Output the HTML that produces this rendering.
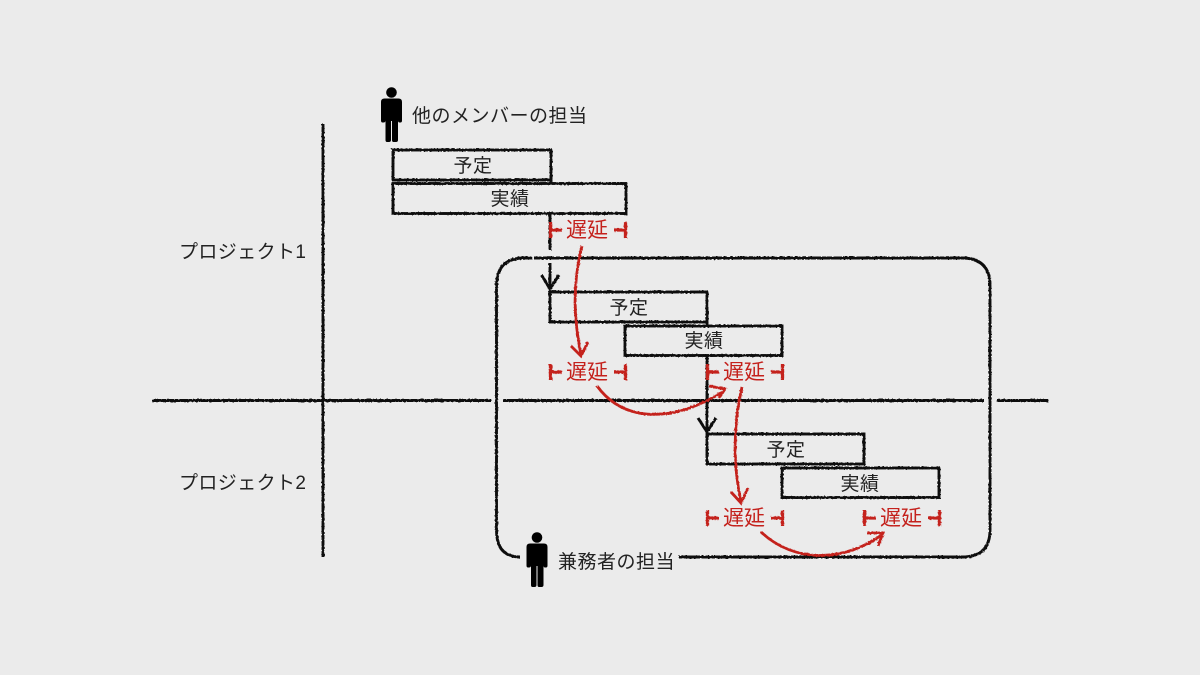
<!DOCTYPE html>
<html lang="ja"><head><meta charset="utf-8"><style>
html,body{margin:0;padding:0;background:#ebebeb;width:1200px;height:675px;overflow:hidden}
svg{display:block}
text{font-family:"Liberation Sans","Noto Sans CJK JP",sans-serif;font-size:19px;letter-spacing:.5px;fill:#222}
.c{text-anchor:middle}
.r{fill:#c4211c;font-size:21px;letter-spacing:0}
</style></head><body>
<svg width="1200" height="675" viewBox="0 0 1200 675" xmlns="http://www.w3.org/2000/svg">
<defs><filter id="s" x="-5%" y="-5%" width="110%" height="110%"><feTurbulence type="fractalNoise" baseFrequency="0.5" numOctaves="2" seed="3"/><feDisplacementMap in="SourceGraphic" scale="2"/></filter></defs>
<rect width="1200" height="675" fill="#ebebeb"/>
<g filter="url(#s)" fill="none" stroke="#111" stroke-width="2.9">
<path d="M323 124V557M152 400.500H491M503 400.500H984M997 400.500H1048"/>
<path d="M532 258H524Q496.500 258 496.500 286V530Q496.500 557 520 557M534 258H962Q990 258 990 286V530Q990 557 962 557H679"/>
<rect x="393" y="150" width="158" height="30"/>
<rect x="393" y="183.500" width="233" height="30"/>
<path d="M551 180V184M550 213V250M550 263V289M541.500 275L550 289L559 275"/>
<rect x="550" y="292" width="157" height="30" fill="#ebebeb"/>
<rect x="625" y="326" width="157" height="29.500" fill="#ebebeb"/>
<path d="M707 322V326M707 355V431M698 418L707 432L716 418"/>
<rect x="707" y="434" width="157" height="30" fill="#ebebeb"/>
<rect x="782" y="468" width="157" height="29.500" fill="#ebebeb"/>
</g>
<g filter="url(#s)" fill="none" stroke="#c4211c" stroke-width="2.8">
<path d="M582 246C572 285 574 320 581 355M571 346L581 356L588 342"/>
<path d="M597 386C625 424 675 422 724 391M709 386L725 389L719 398"/>
<path d="M742 387C733 425 733 465 741 502M731 492L741 503L748 488"/>
<path d="M761 532C795 564 845 562 883 534M867 533L883 533L878 546"/>
<g stroke-width="3.300">
<path d="M550.500 222V238M550.500 230H562M625.500 222V238M614 230H625.500"/>
<path d="M550.500 364V380M550.500 372H562M625.500 364V380M614 372H625.500"/>
<path d="M707.500 364V380M707.500 372H719M782.500 364V380M771 372H782.500"/>
<path d="M707.500 510V526M707.500 518H719M782.500 510V526M771 518H782.500"/>
<path d="M864.500 510V526M864.500 518H876M939.500 510V526M928 518H939.500"/>
</g>
</g>
<g fill="#000">
<circle cx="391.500" cy="92.500" r="5.300"/>
<path d="M384.500 98.500H398.500Q402 98.500 402 102V120.500Q402 122.500 400.500 122.500H399.500Q398 122.500 398 120.500V140Q398 142 396 142H393.500Q392 142 392 140V121H391V140Q391 142 389 142H387Q385.500 142 385.500 140V120.500Q385.500 122.500 383.500 122.500H382.500Q381 122.500 381 120.500V102Q381 98.500 384.500 98.500Z"/>
<circle cx="537" cy="537.500" r="5.300"/>
<path d="M530 543.500H544Q547.500 543.500 547.500 547V565.500Q547.500 567.500 546 567.500H545Q543.500 567.500 543.500 565.500V585Q543.500 587 541.500 587H539Q537.500 587 537.500 585V566H536.500V585Q536.500 587 534.500 587H532.500Q531 587 531 585V565.500Q531 567.500 529 567.500H528Q526.500 567.500 526.500 565.500V547Q526.500 543.500 530 543.500Z"/>
</g>
<text x="412" y="122">他のメンバーの担当</text>
<text x="558" y="568">兼務者の担当</text>
<text x="179" y="258" style="letter-spacing:.4px">プロジェクト1</text>
<text x="179" y="489" style="letter-spacing:.4px">プロジェクト2</text>
<text class="c" x="473" y="172">予定</text>
<text class="c" x="510" y="205">実績</text>
<text class="c" x="629" y="314">予定</text>
<text class="c" x="704" y="347">実績</text>
<text class="c" x="786" y="456">予定</text>
<text class="c" x="860" y="490">実績</text>
<text class="c r" x="587" y="237">遅延</text>
<text class="c r" x="587" y="379">遅延</text>
<text class="c r" x="744" y="379">遅延</text>
<text class="c r" x="744" y="525">遅延</text>
<text class="c r" x="901" y="525">遅延</text>
</svg>
</body></html>
